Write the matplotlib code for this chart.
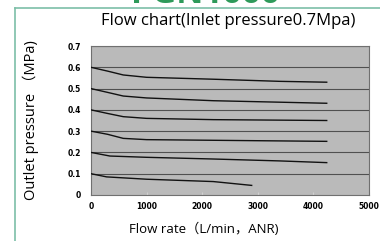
import matplotlib
matplotlib.use("Agg")
import matplotlib.pyplot as plt
import numpy as np

plt.rcParams['font.family'] = ['Open Sans', 'Noto Sans CJK SC', 'DejaVu Sans']

# flow rate (L/min) and outlet pressure (MPa)
flow_06 = [0, 300, 580, 1000, 2200, 3400, 4240]
p_06 = [0.600, 0.582, 0.564, 0.553, 0.544, 0.534, 0.530]
flow_05 = [0, 300, 580, 1000, 2200, 3400, 4240]
p_05 = [0.500, 0.482, 0.465, 0.456, 0.443, 0.436, 0.431]
flow_04 = [0, 300, 580, 1000, 2200, 4240]
p_04 = [0.400, 0.383, 0.368, 0.360, 0.354, 0.350]
flow_03 = [0, 300, 580, 1000, 2200, 4240]
p_03 = [0.300, 0.285, 0.266, 0.260, 0.257, 0.252]
flow_02 = [0, 340, 1000, 2200, 3400, 4240]
p_02 = [0.200, 0.183, 0.177, 0.169, 0.160, 0.152]
flow_01 = [0, 280, 1000, 2200, 2890]
p_01 = [0.100, 0.085, 0.074, 0.063, 0.045]

curves = [(flow_06, p_06), (flow_05, p_05), (flow_04, p_04),
          (flow_03, p_03), (flow_02, p_02), (flow_01, p_01)]

xticks = [0, 1000, 2000, 3000, 4000, 5000]
yticks = [0, 0.1, 0.2, 0.3, 0.4, 0.5, 0.6, 0.7]
ylabels = ['0', '0.1', '0.2', '0.3', '0.4', '0.5', '0.6', '0.7']

fig = plt.figure(figsize=(3.8, 2.41), dpi=100)
ax = fig.add_axes([0.2395, 0.191, 0.7315, 0.618])
ax.set_facecolor('#bababa')

for y in yticks[1:]:
    ax.axhline(y, color='#505050', lw=0.8, zorder=1)

for fx, py in curves:
    ax.plot(fx, py, color='#111111', lw=1.0, zorder=3)

ax.set_xlim(0, 5000)
ax.set_ylim(0, 0.7)
ax.set_xticks(xticks)
ax.set_xticklabels([str(v) for v in xticks], fontsize=5.5, fontweight='bold',
                   family='DejaVu Sans')
ax.set_yticks(yticks)
ax.set_yticklabels(ylabels, fontsize=5.5, fontweight='bold', family='DejaVu Sans')
ax.tick_params(axis='x', direction='in', length=2, color='#d0d0d0', pad=5)
ax.tick_params(axis='y', length=0, pad=7)
for s in ax.spines.values():
    s.set_color('#707070')
    s.set_linewidth(0.8)

fig.text(204/380, 1 - 229/241, 'Flow rate（L/min，ANR)', ha='center', va='center',
         fontsize=9.5)
fig.text(31/380, 1 - 120/241, 'Outlet pressure （MPa)', ha='center', va='center',
         rotation=90, fontsize=10.5)
fig.text(228/380, 1 - 21/241, 'Flow chart(Inlet pressure0.7Mpa)', ha='center',
         va='center', fontsize=12)

# green frame and cut-off heading at the top
fig.add_artist(plt.Line2D([15/380, 1], [1 - 7.5/241, 1 - 7.5/241],
                          color='#7dbfa8', lw=1.2))
fig.add_artist(plt.Line2D([15/380, 15/380], [0, 1 - 7.5/241],
                          color='#7dbfa8', lw=1.2))
fig.text(205/380, 1 - 3/241, 'PGN1000', ha='center', va='baseline', fontsize=24,
         fontweight='bold', color='#2e9a5a')

fig.savefig('out.png', dpi=100)
